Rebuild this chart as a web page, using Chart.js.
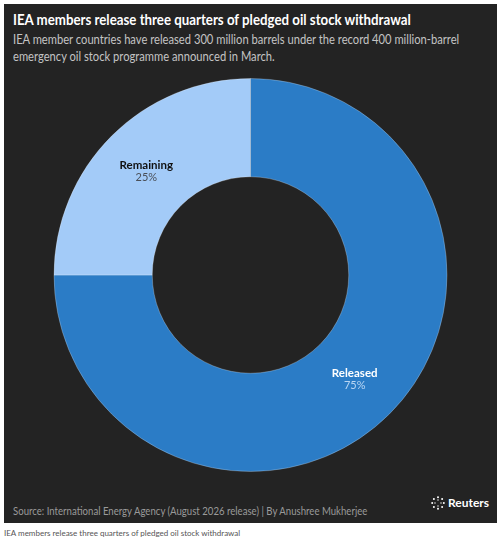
<!DOCTYPE html>
<html>
<head>
<meta charset="utf-8">
<script src="https://cdn.jsdelivr.net/npm/chart.js@4"></script>
<style>
  html, body { margin: 0; padding: 0; background: #fff; }
  body { width: 503px; height: 543px; position: relative; overflow: hidden; font-family: Lato, sans-serif; }
  #panel { position: absolute; left: 4px; top: 4px; width: 493px; height: 519px; background: #232323; }
  .narrow { transform-origin: left top; white-space: nowrap; }
  #title { position: absolute; left: 9px; top: 6px; color: #fff; font-weight: 700; font-size: 15px; transform: scaleX(0.885); }
  #subtitle { position: absolute; left: 9px; top: 27px; color: #c4c4c4; font-size: 13px; line-height: 16.5px; transform: scaleX(0.86); }
  #chartBox { position: absolute; left: 0; top: 69px; width: 493px; height: 404px; }
  #source { position: absolute; left: 9px; top: 500px; color: #9a9a9a; font-size: 11.5px; transform: scaleX(0.835); }
  #logo { position: absolute; left: 427px; top: 491px; color: #fff; font-weight: 700; font-size: 12px; display: flex; align-items: center; gap: 3px; }
  #caption { position: absolute; left: 4px; top: 528px; color: #555; font-size: 8px; white-space: nowrap; }
</style>
</head>
<body>
<div id="panel">
  <div id="title" class="narrow">IEA members release three quarters of pledged oil stock withdrawal</div>
  <div id="subtitle" class="narrow">IEA member countries have released 300 million barrels under the record 400 million-barrel<br>emergency oil stock programme announced in March.</div>
  <div id="chartBox"><canvas id="pie"></canvas></div>
  <div id="source" class="narrow">Source: International Energy Agency (August 2026 release) | By Anushree Mukherjee</div>
  <div id="logo">
    <svg width="14" height="14" viewBox="0 0 14 14">
      <g fill="#fff">
        <circle cx="7" cy="1.2" r="1"/><circle cx="11.1" cy="2.9" r="1"/><circle cx="12.8" cy="7" r="1"/>
        <circle cx="11.1" cy="11.1" r="1"/><circle cx="7" cy="12.8" r="1"/><circle cx="2.9" cy="11.1" r="1"/>
        <circle cx="1.2" cy="7" r="1"/><circle cx="2.9" cy="2.9" r="1"/>
        <circle cx="7" cy="4" r="0.7"/><circle cx="10" cy="7" r="0.7"/><circle cx="7" cy="10" r="0.7"/><circle cx="4" cy="7" r="0.7"/>
      </g>
    </svg>
    <span>Reuters</span>
  </div>
</div>
<div id="caption">IEA members release three quarters of pledged oil stock withdrawal</div>

<script>
// Share of the 400 million-barrel programme
const categories = ['Released', 'Remaining'];
const shares = [75, 25];
const sliceColors = ['#2b7cc6', '#a3cbf8'];
const nameColors = ['#ffffff', '#111111'];
const pctColors = ['#b9d6f3', '#4a4f57'];

// Label each slice at the middle of its ring segment
const sliceLabels = {
  id: 'sliceLabels',
  afterDatasetsDraw(chart) {
    const c = chart.ctx;
    const meta = chart.getDatasetMeta(0);
    c.save();
    c.textAlign = 'center';
    meta.data.forEach((arc, i) => {
      const mid = (arc.startAngle + arc.endAngle) / 2;
      const r = (arc.innerRadius + arc.outerRadius) / 2;
      const x = arc.x + Math.cos(mid) * r;
      const y = arc.y + Math.sin(mid) * r;
      c.fillStyle = nameColors[i];
      c.font = '700 11.5px Lato, sans-serif';
      c.fillText(categories[i], x, y - 2);
      c.fillStyle = pctColors[i];
      c.font = '400 11px Lato, sans-serif';
      c.fillText(shares[i] + '%', x, y + 10);
    });
    c.restore();
  }
};

new Chart(document.getElementById('pie'), {
  type: 'doughnut',
  data: {
    labels: categories,
    datasets: [{
      data: shares,
      backgroundColor: sliceColors,
      borderColor: 'rgba(255,255,255,0.25)',
      borderWidth: 1,
    }]
  },
  options: {
    responsive: true,
    maintainAspectRatio: false,
    animation: false,
    cutout: '50%',
    layout: { padding: { top: 5, bottom: 5, left: 0, right: 0 } },
    plugins: {
      legend: { display: false },
      tooltip: { enabled: false }
    }
  },
  plugins: [sliceLabels]
});
</script>
</body>
</html>
